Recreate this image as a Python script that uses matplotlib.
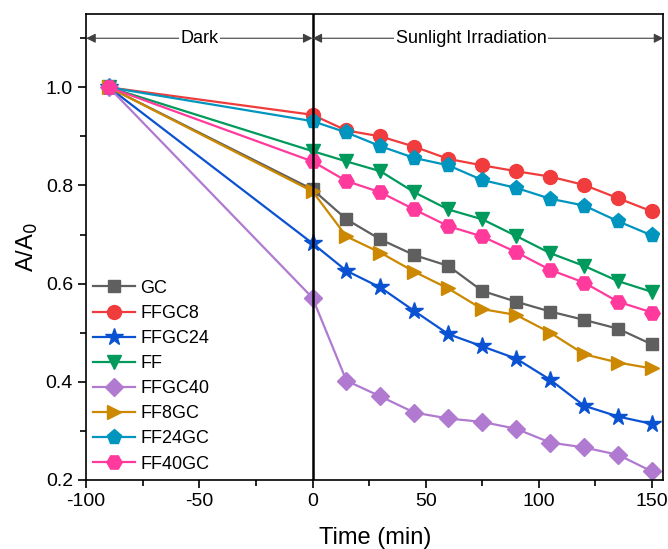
import numpy as np
import matplotlib.pyplot as plt
from matplotlib.ticker import MultipleLocator

plt.rcParams['font.family'] = ['Liberation Sans', 'DejaVu Sans']
plt.rcParams['axes.unicode_minus'] = False

time = [-90, 0, 15, 30, 45, 60, 75, 90, 105, 120, 135, 150]

gc = [1.0, 0.792, 0.731, 0.690, 0.658, 0.636, 0.585, 0.563, 0.543, 0.526, 0.508, 0.476]
ffgc8 = [1.0, 0.944, 0.912, 0.900, 0.879, 0.854, 0.841, 0.829, 0.818, 0.801, 0.774, 0.747]
ffgc24 = [1.0, 0.682, 0.626, 0.592, 0.544, 0.497, 0.472, 0.447, 0.404, 0.351, 0.329, 0.314]
ff = [1.0, 0.870, 0.849, 0.829, 0.786, 0.751, 0.731, 0.697, 0.662, 0.636, 0.605, 0.583]
ffgc40 = [1.0, 0.571, 0.402, 0.370, 0.337, 0.325, 0.318, 0.304, 0.276, 0.266, 0.251, 0.217]
ff8gc = [1.0, 0.788, 0.696, 0.663, 0.624, 0.590, 0.548, 0.536, 0.500, 0.456, 0.439, 0.427]
ff24gc = [1.0, 0.931, 0.908, 0.880, 0.856, 0.841, 0.811, 0.795, 0.773, 0.759, 0.727, 0.698]
ff40gc = [1.0, 0.849, 0.809, 0.786, 0.751, 0.717, 0.696, 0.664, 0.628, 0.602, 0.563, 0.541]

series = [
    ('GC', gc, '#5f5f5f', 's', 9),
    ('FFGC8', ffgc8, '#f03c3c', 'o', 10),
    ('FFGC24', ffgc24, '#0a52d2', '*', 13),
    ('FF', ff, '#009a5c', 'v', 10),
    ('FFGC40', ffgc40, '#b07ad0', 'D', 9),
    ('FF8GC', ff8gc, '#cc8800', '>', 10),
    ('FF24GC', ff24gc, '#0095bf', 'p', 11),
    ('FF40GC', ff40gc, '#ff3a9c', 'H', 11),
]

fig = plt.figure(figsize=(6.68, 5.49), dpi=100)
ax = fig.add_axes([0.129, 0.126, 0.864, 0.849])

for name, vals, col, mk, ms in series:
    ax.plot(time, vals, color=col, marker=mk, markersize=ms, lw=1.6, label=name)

ax.axvline(0, color='black', lw=1.8)

ax.set_xlim(-100, 155)
ax.set_ylim(0.2, 1.15)
ax.xaxis.set_major_locator(MultipleLocator(50))
ax.xaxis.set_minor_locator(MultipleLocator(25))
ax.yaxis.set_major_locator(MultipleLocator(0.2))
ax.yaxis.set_minor_locator(MultipleLocator(0.1))
ax.tick_params(which='both', direction='out', labelsize=14, width=1.2)
ax.tick_params(which='major', length=6)
ax.tick_params(which='minor', length=4)
for sp in ax.spines.values():
    sp.set_linewidth(1.2)

ax.set_xlabel('Time (min)', fontsize=17, labelpad=12)
ax.set_ylabel(r'A/A$_0$', fontsize=17)

# period arrows
arrow = dict(arrowstyle='<|-|>', color='0.25', lw=0.8, mutation_scale=14, shrinkA=0, shrinkB=0)
ax.annotate('', xy=(-100, 1.1), xytext=(0, 1.1), arrowprops=arrow)
ax.annotate('', xy=(0, 1.1), xytext=(155, 1.1), arrowprops=arrow)
ax.text(-50, 1.1, 'Dark', fontsize=13, ha='center', va='center',
        bbox=dict(facecolor='white', edgecolor='none', pad=1))
ax.text(70, 1.1, 'Sunlight Irradiation', fontsize=13, ha='center', va='center',
        bbox=dict(facecolor='white', edgecolor='none', pad=1))

ax.legend(loc='lower left', bbox_to_anchor=(0.0, 0.0), frameon=False, fontsize=13,
          handlelength=2.3, labelspacing=0.45, borderpad=0.2, borderaxespad=0.2,
          handletextpad=0.3)

fig.savefig('out.png', dpi=100)
